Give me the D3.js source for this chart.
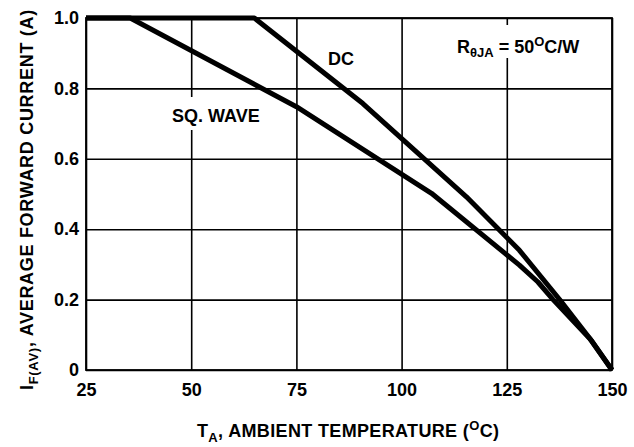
<!DOCTYPE html>
<html>
<head>
<meta charset="utf-8">
<script src="https://cdn.jsdelivr.net/npm/d3@7"></script>
<style>
    body { margin: 0; background: #fff; }
    text { font-family: "Liberation Sans", Arial, sans-serif; font-weight: bold; fill: #000; }
</style>
</head>
<body>
<svg id="chart" width="634" height="447"></svg>
<script>
// values
const tempTicks = [25, 50, 75, 100, 125, 150];
const currentTicks = [0, 0.2, 0.4, 0.6, 0.8, 1.0];

const dcTemp = [25, 65, 90.8, 115.4, 128, 137.5, 145.1, 150];
const dcCurrent = [1.0, 1.0, 0.757, 0.492, 0.34, 0.201, 0.084, 0];

const sqTemp = [25, 35.5, 75, 107.1, 128, 132.4, 136, 144.8, 150];
const sqCurrent = [1.0, 1.0, 0.748, 0.502, 0.298, 0.25, 0.2, 0.088, 0];

const margin = {"left": 86, "top": 18, "right": 22, "bottom": 77};
const width = 634 - margin.left - margin.right;
const height = 447 - margin.top - margin.bottom;

const svg = d3.select("#chart");
const g = svg.append("g").attr("transform", `translate(${margin.left},${margin.top})`);

const x = d3.scaleLinear().domain([25, 150]).range([0, width]);
const y = d3.scaleLinear().domain([0, 1.0]).range([height, 0]);

// grid
g.append("g")
    .attr("class", "grid")
    .attr("transform", `translate(0,${height})`)
    .call(d3.axisBottom(x).tickValues(tempTicks).tickSize(-height).tickFormat(""))
    .call(a => a.select(".domain").remove());

g.append("g")
    .attr("class", "grid")
    .call(d3.axisLeft(y).tickValues(currentTicks).tickSize(-width).tickFormat(""))
    .call(a => a.select(".domain").remove());

g.selectAll(".grid line").attr("stroke", "#000").attr("stroke-width", 1.6);

g.append("rect")
    .attr("width", width).attr("height", height)
    .attr("fill", "none").attr("stroke", "#000").attr("stroke-width", 1.8);

// tick labels
const xAxis = g.append("g")
    .attr("transform", `translate(0,${height})`)
    .call(d3.axisBottom(x).tickValues(tempTicks).tickSize(0).tickPadding(13));
xAxis.select(".domain").remove();
xAxis.selectAll("text").style("font-size", "18px").style("font-family", "Liberation Sans, Arial, sans-serif")
    .style("font-weight", "bold");

const yAxis = g.append("g")
    .call(d3.axisLeft(y).tickValues(currentTicks).tickSize(0).tickPadding(7)
        .tickFormat(d => d === 0 ? "0" : d.toFixed(1)));
yAxis.select(".domain").remove();
yAxis.selectAll("text").style("font-size", "18px").style("font-family", "Liberation Sans, Arial, sans-serif")
    .style("font-weight", "bold");

// curves
const line = d3.line().x(d => x(d[0])).y(d => y(d[1]));

const series = [
    d3.zip(dcTemp, dcCurrent),
    d3.zip(sqTemp, sqCurrent)
];

g.selectAll(".curve")
    .data(series)
    .enter().append("path")
    .attr("class", "curve")
    .attr("d", line)
    .attr("fill", "none")
    .attr("stroke", "#000")
    .attr("stroke-width", 5)
    .attr("stroke-linejoin", "round");

// annotations, with white boxes that break the grid like the original
svg.append("rect").attr("x", 168).attr("y", 97).attr("width", 96).attr("height", 33).attr("fill", "#fff");
svg.append("text").attr("x", 172).attr("y", 122).style("font-size", "18px").text("SQ. WAVE");
svg.append("text").attr("x", 328).attr("y", 65).style("font-size", "18px").text("DC");

svg.append("rect").attr("x", 452).attr("y", 25).attr("width", 140).attr("height", 33).attr("fill", "#fff");
const r = svg.append("text").attr("x", 457).attr("y", 53).style("font-size", "18px");
r.append("tspan").text("R");
r.append("tspan").attr("dy", 4).style("font-size", "13px").text("θJA");
r.append("tspan").attr("dy", -4).text(" = 50");
r.append("tspan").attr("dy", -7).style("font-size", "13px").text("O");
r.append("tspan").attr("dy", 7).text("C/W");

// axis titles
const xt = svg.append("text").attr("x", 197).attr("y", 437)
    .style("font-size", "18px").style("letter-spacing", "0.35px");
xt.append("tspan").text("T");
xt.append("tspan").attr("dy", 5).style("font-size", "13px").text("A");
xt.append("tspan").attr("dy", -5).text(", AMBIENT TEMPERATURE (");
xt.append("tspan").attr("dy", -7).style("font-size", "13px").text("O");
xt.append("tspan").attr("dy", 7).text("C)");

const yt = svg.append("text")
    .attr("transform", "translate(33,390) rotate(-90)")
    .style("font-size", "18px").style("letter-spacing", "0.7px");
yt.append("tspan").text("I");
yt.append("tspan").attr("dy", 5).style("font-size", "13px").text("F(AV)");
yt.append("tspan").attr("dy", -5).text(",  AVERAGE FORWARD CURRENT (A)");
</script>
</body>
</html>
